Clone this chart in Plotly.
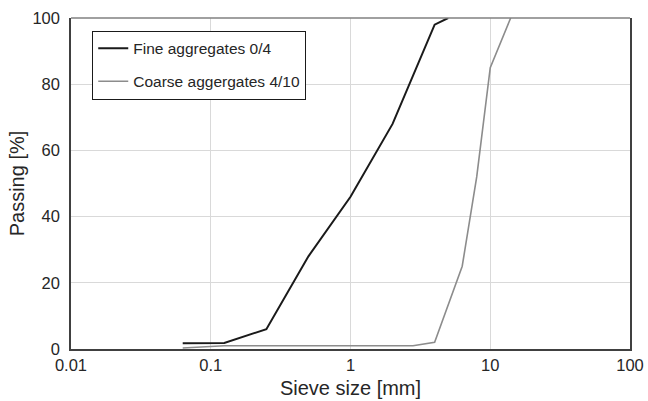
import plotly.graph_objects as go

# Data
fine_sizes = [0.063, 0.125, 0.25, 0.5, 1, 2, 4, 5]
fine_passing = [1.7, 1.8, 6, 28, 46, 68, 98, 100]
coarse_sizes = [0.063, 0.125, 0.25, 0.5, 1, 2, 2.8, 4, 6.3, 8, 10, 14]
coarse_passing = [0.3, 1, 1, 1, 1, 1, 1, 2, 25, 52, 85, 100]
x_tickvals = [0.01, 0.1, 1, 10, 100]
x_ticktext = ["0.01", "0.1", "1", "10", "100"]
y_tickvals = [0, 20, 40, 60, 80, 100]

FONT = "Liberation Sans, Arial, sans-serif"

fig = go.Figure()
fig.add_trace(go.Scatter(
    x=fine_sizes, y=fine_passing, mode="lines", name="Fine aggregates 0/4",
    line=dict(color="#1a1a1a", width=2), legendgroup="a"))
fig.add_trace(go.Scatter(
    x=coarse_sizes, y=coarse_passing, mode="lines", name="Coarse aggergates 4/10",
    line=dict(color="#8c8c8c", width=1.6), legendgroup="b"))

fig.update_layout(
    width=648, height=401,
    margin=dict(l=71, r=18, t=18, b=52, autoexpand=False),
    paper_bgcolor="white", plot_bgcolor="white",
    font=dict(family=FONT, size=16, color="#262626"),
    showlegend=True,
    legend=dict(
        x=0.038, y=0.962, xanchor="left", yanchor="top",
        bgcolor="white", bordercolor="#1a1a1a", borderwidth=1,
        font=dict(family=FONT, size=15.5, color="#262626"),
        tracegroupgap=10, traceorder="grouped",
    ),
    xaxis=dict(
        type="log", range=[-2, 2], automargin=False,
        tickvals=x_tickvals, ticktext=x_ticktext,
        showgrid=True, gridcolor="#d9d9d9", gridwidth=1,
        showline=True, linecolor="#404040", linewidth=1.5, mirror=False,
        ticks="", zeroline=False,
        tickfont=dict(size=16.5),
        title=dict(text="Sieve size [mm]", font=dict(size=20), standoff=8),
    ),
    yaxis=dict(
        range=[0, 100], tickvals=y_tickvals, automargin=False,
        showgrid=True, gridcolor="#d9d9d9", gridwidth=1,
        showline=True, linecolor="#404040", linewidth=1.5, mirror=True,
        ticks="", zeroline=False,
        tickfont=dict(size=16.5), ticklabelstandoff=6,
        title=dict(text="Passing [%]", font=dict(size=20), standoff=2),
    ),
    shapes=[dict(type="line", xref="paper", yref="paper", x0=0, x1=1, y0=1, y1=1,
                 line=dict(color="#808080", width=1.5), layer="above")],
)

fig.write_html("out.html")
